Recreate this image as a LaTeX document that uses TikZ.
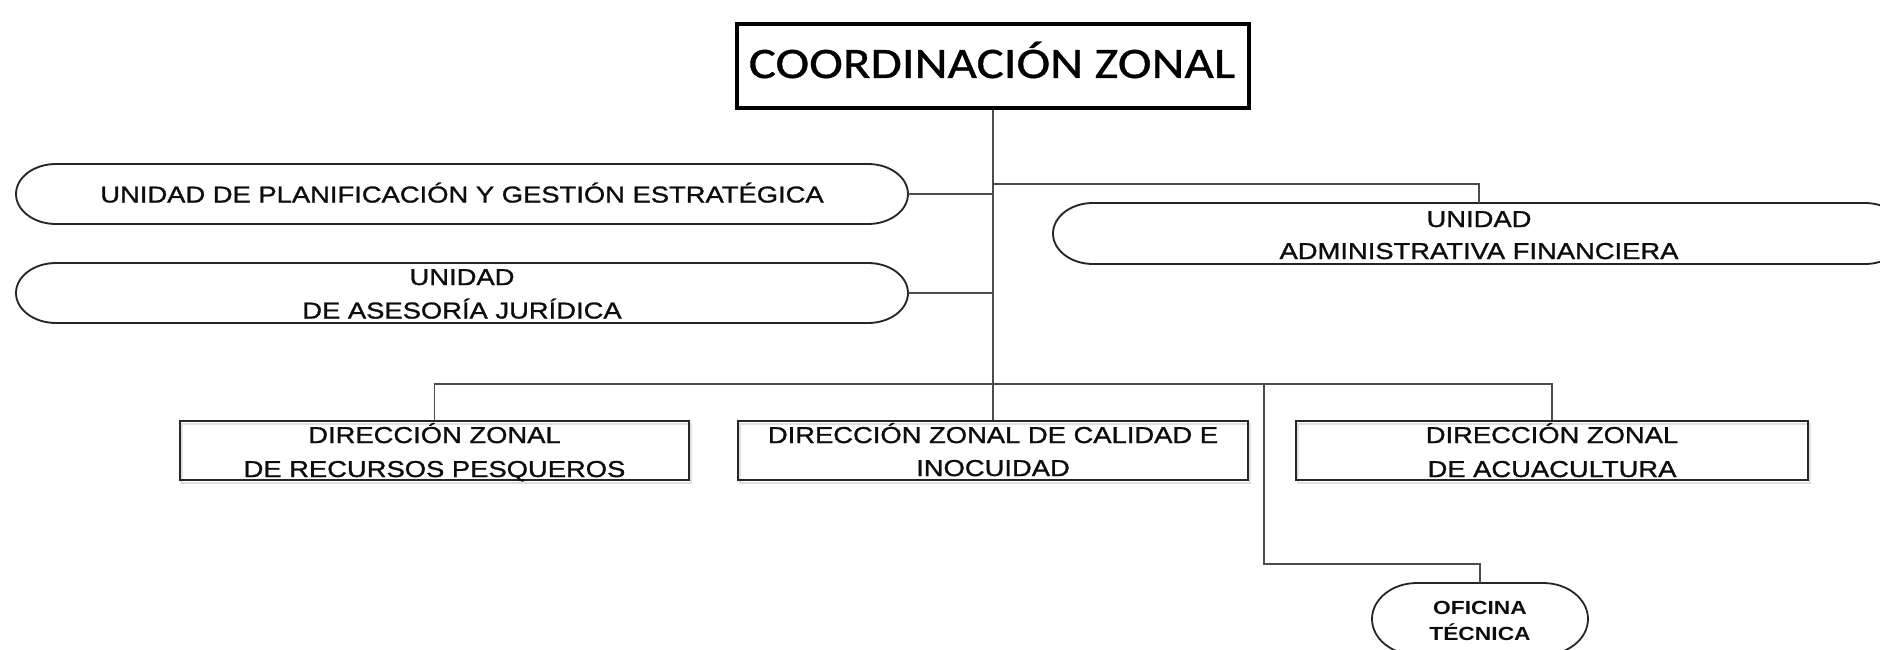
\documentclass[tikz,border=0pt]{standalone}
\usepackage{fontspec}
\newfontfamily\titlefont[FakeStretch=1.17,FakeBold=0.8]{Carlito}
\newfontfamily\unitfont[FakeStretch=1.19,FakeBold=1.2]{Liberation Sans}
\newfontfamily\ofifont[FakeStretch=1.2]{Liberation Sans}
\usetikzlibrary{calc}
\newcommand{\pillpath}[4]{%
  \draw[#1] ([xshift=#3]#2.north west) -- ([xshift=-#3]#2.north east)
    arc[start angle=90, end angle=-90, x radius=#3, y radius=#4]
    -- ([xshift=#3]#2.south west)
    arc[start angle=270, end angle=90, x radius=#3, y radius=#4] -- cycle;}
\begin{document}
\begin{tikzpicture}[x=1pt,y=1pt,
  frame/.style={rectangle, draw=none, inner sep=0pt, outer sep=0pt},
  rectbox/.style={rectangle, draw=black!85, line width=1.8pt, inner sep=0pt},
  boxline/.style={draw=black!85, line width=1.8pt},
  shadowline/.style={draw=black!12, line width=2pt},
  link/.style={draw=black!70, line width=1.4pt},
  txt/.style={anchor=base, inner sep=0pt, text=black!95, font=\unitfont\fontsize{23}{27}\selectfont},
  otxt/.style={anchor=base, inner sep=0pt, text=black!95, font=\ofifont\bfseries\fontsize{19}{23}\selectfont},
  ttxt/.style={anchor=base, inner sep=0pt, text=black, font=\titlefont\fontsize{43.5}{50}\selectfont},
]
\useasboundingbox (0,0) rectangle (1880,-650);
\clip (0,0) rectangle (1880,-650);

% ---------- frames (positions) ----------
\node[frame, minimum width=892pt, minimum height=60pt] (upge) at (462,-194) {};
\node[frame, minimum width=892pt, minimum height=60pt] (uaj) at (462,-293) {};
\node[frame, minimum width=852pt, minimum height=61pt] (uaf) at (1479,-233.5) {};
\node[frame, minimum width=216pt, minimum height=72pt] (ofi) at (1480,-619) {};

% ---------- shadows ----------
\begin{scope}[shift={(2,-3)}]
  \pillpath{shadowline}{upge}{40pt}{30pt}
  \pillpath{shadowline}{uaj}{40pt}{30pt}
  \pillpath{shadowline}{uaf}{40pt}{30.5pt}
  \draw[shadowline] (180,-421) rectangle (689,-480);
  \draw[shadowline] (738,-421) rectangle (1248,-480);
  \draw[shadowline] (1296,-421) rectangle (1808,-480);
\end{scope}

% ---------- boxes ----------
\node[rectbox, draw=black, line width=4pt, minimum width=512pt, minimum height=84pt] (title) at (993,-66) {};
\node[rectbox, minimum width=509pt, minimum height=59pt] (pesq) at (434.5,-450.5) {};
\node[rectbox, minimum width=510pt, minimum height=59pt] (cal) at (993,-450.5) {};
\node[rectbox, minimum width=512pt, minimum height=59pt] (acu) at (1552,-450.5) {};
\pillpath{boxline}{upge}{40pt}{30pt}
\pillpath{boxline}{uaj}{40pt}{30pt}
\pillpath{boxline}{uaf}{40pt}{30.5pt}
\pillpath{boxline}{ofi}{45pt}{36pt}

% ---------- junctions ----------
\coordinate (jr) at (993,-184);
\coordinate (bus) at (993,-384);
\coordinate (bus2) at (1264,-384);
\coordinate (jo) at (1264,-564);

% ---------- connectors ----------
\draw[link] (title.south) -- (cal.north);
\draw[link] (upge.east) -- (upge.east -| title.south);
\draw[link] (uaj.east) -- (uaj.east -| title.south);
\draw[link] (jr) -| (uaf.north);
\draw[link] (pesq.north) |- (bus) -| (acu.north);
\draw[link] (bus2) -- (jo) -| (ofi.north);

% ---------- texts ----------
\node[ttxt] (t-title) at (992,-78) {COORDINACIÓN ZONAL};
\node[txt] (t-upge) at (462,-202.5) {UNIDAD DE PLANIFICACIÓN Y GESTIÓN ESTRATÉGICA};
\node[txt] (t-uaj1) at (462,-285) {UNIDAD};
\node[txt] (t-uaj2) at (462,-318.5) {DE ASESORÍA JURÍDICA};
\node[txt] (t-uaf1) at (1479,-227) {UNIDAD};
\node[txt] (t-uaf2) at (1479,-259) {ADMINISTRATIVA FINANCIERA};
\node[txt] (t-pesq1) at (434.5,-443) {DIRECCIÓN ZONAL};
\node[txt] (t-pesq2) at (434.5,-477) {DE RECURSOS PESQUEROS};
\node[txt] (t-cal1) at (993,-443) {DIRECCIÓN ZONAL DE CALIDAD E};
\node[txt] (t-cal2) at (993,-476) {INOCUIDAD};
\node[txt] (t-acu1) at (1552,-443) {DIRECCIÓN ZONAL};
\node[txt] (t-acu2) at (1552,-477) {DE ACUACULTURA};
\node[otxt] (t-ofi1) at (1480,-614) {OFICINA};
\node[otxt] (t-ofi2) at (1480,-640) {TÉCNICA};
\end{tikzpicture}
\end{document}
